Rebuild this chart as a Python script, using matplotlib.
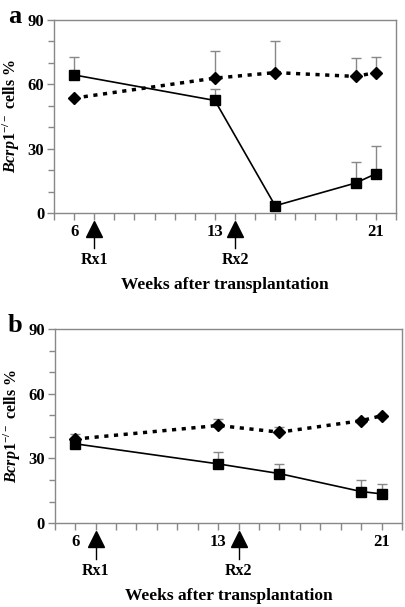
import numpy as np
import matplotlib
matplotlib.use('Agg')
import matplotlib.pyplot as plt
from matplotlib.ticker import MultipleLocator, FixedLocator

plt.rcParams['font.family'] = 'Liberation Serif'
plt.rcParams['font.weight'] = 'bold'
plt.rcParams['mathtext.fontset'] = 'custom'
plt.rcParams['mathtext.rm'] = 'Liberation Serif:bold'
plt.rcParams['mathtext.it'] = 'Liberation Serif:italic:bold'
plt.rcParams['mathtext.bf'] = 'Liberation Serif:bold'

weeks = [6, 13, 16, 20, 21]

# panel a
a_sq = [64.4, 52.5, 3.4, 14.0, 18.3]
a_sq_err = [8.3, 5.3, 0, 9.6, 13.0]
a_di = [53.6, 62.9, 65.5, 63.7, 65.5]
a_di_err = [0, 12.7, 14.5, 8.5, 7.2]

# panel b
b_sq = [36.8, 27.5, 23.0, 14.7, 13.6]
b_sq_err = [0, 5.7, 4.4, 5.2, 4.8]
b_di = [39.0, 45.3, 42.2, 47.5, 49.8]
b_di_err = [2.3, 2.9, 2.6, 0, 0]

rx_weeks = [7, 14]
rx_labels = ['Rx1', 'Rx2']

fig = plt.figure(figsize=(4.06, 6.07), dpi=100)
ax_a = fig.add_axes([0.133, 0.649, 0.842, 0.318])
ax_b = fig.add_axes([0.135, 0.138, 0.855, 0.320])

def draw(ax, sq, sq_err, di, di_err, letter):
    gray = '#888888'
    ax.errorbar(weeks, di, yerr=[np.zeros(5), di_err], fmt='none', ecolor=gray,
                elinewidth=1, capsize=3.5, capthick=1, zorder=1)
    ax.errorbar(weeks, sq, yerr=[np.zeros(5), sq_err], fmt='none', ecolor=gray,
                elinewidth=1, capsize=3.5, capthick=1, zorder=1)
    ax.plot(weeks, di, color='black', lw=2.5, linestyle=(0, (1.2, 1.6)),
            marker='D', markersize=6.5, zorder=3)
    ax.plot(weeks, sq, color='black', lw=1.2, linestyle='-',
            marker='s', markersize=7, zorder=3)
    ax.set_xlim(5, 22)
    ax.set_ylim(0, 90)
    ax.yaxis.set_major_locator(MultipleLocator(30))
    ax.yaxis.set_minor_locator(MultipleLocator(10))
    ax.xaxis.set_major_locator(FixedLocator([6, 13, 21]))
    ax.xaxis.set_minor_locator(MultipleLocator(1))
    for s in ax.spines.values():
        s.set_color(gray)
        s.set_linewidth(1)
    ax.tick_params(which='both', direction='out', color=gray, width=1)
    ax.tick_params(axis='y', which='major', length=5, labelsize=12, pad=2)
    ax.tick_params(axis='y', which='minor', length=4)
    ax.tick_params(axis='x', which='major', length=5, labelsize=12, pad=3)
    ax.tick_params(axis='x', which='minor', length=5)
    for lab in ax.get_xticklabels() + ax.get_yticklabels():
        lab.set_fontweight('bold')
    for w, t in zip(rx_weeks, rx_labels):
        ax.plot([w, w], [-7, -16.5], color='black', lw=1, clip_on=False)
        ax.plot([w], [-7.5], marker='^', color='black', markersize=12, clip_on=False)
        ax.text(w, -22, t, ha='center', va='center', fontsize=11.5,
                fontweight='bold', clip_on=False)
    ax.text(13.5, -33.5, 'Weeks after transplantation', ha='center', va='center',
            fontsize=12.5, fontweight='bold')
    ax.set_ylabel(r'$\mathit{Bcrp1}^{\mathrm{-/-}}$ cells %', fontsize=11.5,
                  fontweight='bold', labelpad=4)
    ax.text(-0.115, 1.02, letter, transform=ax.transAxes, fontsize=19,
            fontweight='bold', ha='center', va='center')

draw(ax_a, a_sq, a_sq_err, a_di, a_di_err, 'a')
draw(ax_b, b_sq, b_sq_err, b_di, b_di_err, 'b')

fig.savefig('out.png', dpi=100)
